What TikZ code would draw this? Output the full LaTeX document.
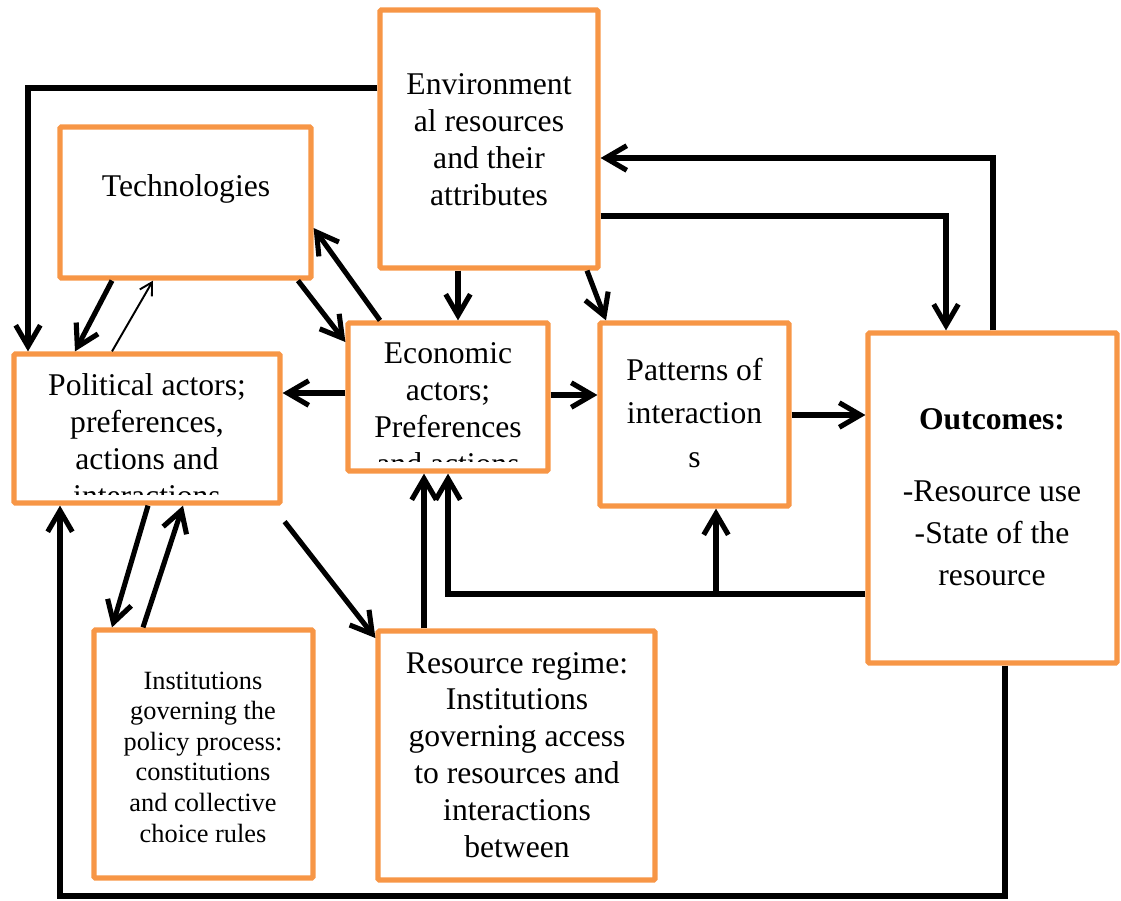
\documentclass[tikz,border=0pt]{standalone}
\usepackage{fontspec}
\setmainfont{Liberation Serif}
\usetikzlibrary{arrows.meta,calc}
\definecolor{RegOrange}{HTML}{F79646}
\definecolor{RegInk}{HTML}{000000}
\tikzset{
  framebox/.style={draw=RegOrange, line width=3pt, fill=white, rounded corners=0.8pt, inner sep=0pt},
  boxtext/.style={font=\fontsize{18}{21}\selectfont, text=RegInk, align=center, inner sep=0pt},
  smalltext/.style={boxtext, font=\fontsize{15}{17.4}\selectfont},
  link/.style={-{Straight Barb[length=12pt,width=14pt]}, line width=2.9pt, draw=RegInk},
  linkthin/.style={-{Straight Barb[length=7pt,width=8pt]}, line width=1.1pt, draw=RegInk}
}

\begin{document}
\begin{tikzpicture}[x=0.02cm, y=-0.02cm]
\useasboundingbox (0,0) rectangle (1121,900);
\node[framebox, minimum width=4.36cm, minimum height=5.16cm] (env) at (489,139) {};
\node[framebox, minimum width=5.02cm, minimum height=3.02cm] (tech) at (185.5,202.5) {};
\node[framebox, minimum width=5.32cm, minimum height=2.98cm] (pol) at (147,428.5) {};
\node[framebox, minimum width=4.00cm, minimum height=2.96cm] (eco) at (448,397) {};
\node[framebox, minimum width=3.78cm, minimum height=3.66cm] (pat) at (694.5,414.5) {};
\node[framebox, minimum width=4.98cm, minimum height=6.60cm] (out) at (992.5,498) {};
\node[framebox, minimum width=4.38cm, minimum height=4.96cm] (inst) at (203.5,754) {};
\node[framebox, minimum width=5.54cm, minimum height=4.98cm] (reg) at (516.5,755.5) {};

\node[boxtext] (env-t) at (489,140) {Environment\\al resources\\and their\\attributes};
\node[boxtext] (tech-t) at (186,189) {Technologies};
\begin{scope}
  \clip (pol.north west) rectangle ($(pol.south east)+(0,-11)$);
  \node[boxtext] (pol-t) at (147,440) {Political actors;\\preferences,\\actions and\\interactions};
\end{scope}
\begin{scope}
  \clip (eco.north west) rectangle ($(eco.south east)+(0,-12)$);
  \node[boxtext] (eco-t) at (448,409) {Economic\\actors;\\Preferences\\and actions};
\end{scope}
\node[boxtext, font=\fontsize{18}{25}\selectfont] (pat-t) at (694.5,413) {Patterns of\\interaction\\s};
\node[boxtext, font=\fontsize{18}{24}\selectfont] (out-t) at (992,497) {\textbf{Outcomes:}\\[17pt]-Resource use\\-State of the\\resource};
\node[smalltext] (inst-t) at (203,757) {Institutions\\governing the\\policy process:\\constitutions\\and collective\\choice rules};
\node[boxtext] (reg-t) at (517,755) {Resource regime:\\Institutions\\governing access\\to resources and\\interactions\\between};

\coordinate (fork) at (716,594);
\draw[link] (env.west |- 0,88) -| (28,0 |- pol.north);
\draw[link] (993,0 |- out.north) |- (env.east |- 0,158);
\draw[link] (env.east |- 0,216) -| (946,0 |- out.north);
\draw[link] (458,0 |- env.south) -- (458,0 |- eco.north);
\draw[link] (587,0 |- env.south) -- (606,0 |- pat.north);
\draw[link] (112,0 |- tech.south) -- (75,0 |- pol.north);
\draw[linkthin] (112,0 |- pol.north) -- (153,0 |- tech.south);
\draw[link] (298,0 |- tech.south) -- (eco.west |- 0,342);
\draw[link] (380,0 |- eco.north) -- (tech.east |- 0,228);
\draw[link] (eco.west |- 0,393) -- (pol.east |- 0,393);
\draw[link] (eco.east |- 0,395) -- (pat.west |- 0,395);
\draw[link] (pat.east |- 0,415) -- (out.west |- 0,415);
\draw[link] (out.west |- fork) -| (448,0 |- eco.south);
\draw[link] (fork) -- (fork |- pat.south);
\draw[link] (424,0 |- reg.north) -- (424,0 |- eco.south);
\draw[link] ($(pol.south east)+(2,16)$) -- (reg.west |- 0,638);
\draw[link] (148,0 |- pol.south) -- (112,0 |- inst.north);
\draw[link] (143,0 |- inst.north) -- (183,0 |- pol.south);
\draw[link] (1005,0 |- out.south) -- (1005,896) -| (60,0 |- pol.south);
\end{tikzpicture}
\end{document}
